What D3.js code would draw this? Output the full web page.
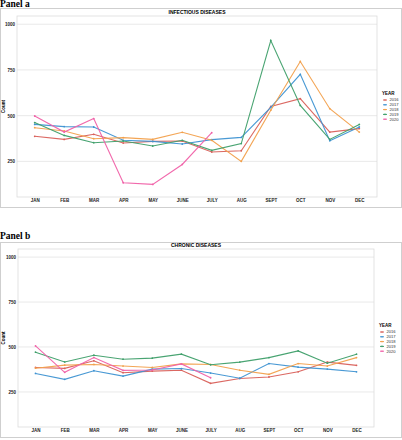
<!DOCTYPE html>
<html><head><meta charset="utf-8">
<script src="https://cdn.jsdelivr.net/npm/d3@7"></script>
<style>body{margin:0;background:#fff}svg{display:block}</style>
</head><body>
<script>
const months = ["JAN","FEB","MAR","APR","MAY","JUNE","JULY","AUG","SEPT","OCT","NOV","DEC"];
const years = ["2016","2017","2018","2019","2020"];
const yTicks = [250,500,750,1000];
const colors = ["#d9605a","#3f93d2","#f2a04c","#3f9f6a","#f061a8"];

const infectious2016 = [387,370,398,350,359,361,301,308,550,593,410,429];
const infectious2017 = [452,440,438,365,359,345,369,381,545,726,363,438];
const infectious2018 = [434,416,374,380,370,409,365,250,530,796,538,410];
const infectious2019 = [462,392,352,361,334,365,310,347,911,556,370,452];
const infectious2020 = [498,410,484,133,124,233,407];

const chronic2016 = [386,381,423,357,366,371,298,325,333,362,416,398];
const chronic2017 = [353,320,368,338,377,380,355,326,408,388,377,362];
const chronic2018 = [382,399,403,394,386,406,403,371,348,408,394,441];
const chronic2019 = [471,417,454,432,438,460,401,416,441,478,410,460];
const chronic2020 = [506,359,441,370,372,406,329];

const svg = d3.select("body").append("svg").attr("width",402).attr("height",440);

function panel(label, labelY, frame, title, series, plot, legendY){
  svg.append("rect").attr("x",frame[0]).attr("y",frame[1]).attr("width",frame[2]).attr("height",frame[3])
    .attr("fill","none").attr("stroke","#cfcfcf").attr("stroke-width",1);
  svg.append("text").attr("x",0).attr("y",labelY).text(label)
    .attr("font-family","Liberation Serif").attr("font-weight","bold").attr("font-size",9.5).attr("fill","#000");

  const [x0,y0,x1,y1] = plot;
  const x = d3.scalePoint().domain(months).range([x0,x1]).padding(0.6);
  const y = d3.scaleLinear().domain([55,1045]).range([y1,y0]);
  const g = svg.append("g");

  g.append("text").attr("x",(x0+x1)/2).attr("y",y0-2.5).attr("text-anchor","middle")
    .attr("font-family","Liberation Sans").attr("font-weight","bold").attr("font-size",5).text(title);

  g.selectAll(".gy").data(yTicks).join("line")
    .attr("x1",x0).attr("x2",x1).attr("y1",d=>y(d)).attr("y2",d=>y(d))
    .attr("stroke","#e6e6e6").attr("stroke-width",0.9);
  g.append("rect").attr("x",x0).attr("y",y0).attr("width",x1-x0).attr("height",y1-y0)
    .attr("fill","none").attr("stroke","#dcdcdc").attr("stroke-width",0.8);

  const ya = g.append("g").attr("transform",`translate(${x0},0)`)
    .call(d3.axisLeft(y).tickValues(yTicks).tickFormat(d3.format("d")).tickSize(0).tickPadding(2));
  ya.select(".domain").remove();
  ya.selectAll("text").attr("font-family","Liberation Sans").attr("font-weight","bold").attr("font-size",4.5).attr("fill","#222");
  const xa = g.append("g").attr("transform",`translate(0,${y1})`)
    .call(d3.axisBottom(x).tickSize(0).tickPadding(2));
  xa.select(".domain").remove();
  xa.selectAll("text").attr("font-family","Liberation Sans").attr("font-weight","bold").attr("font-size",4.5).attr("fill","#222");

  g.append("text").attr("transform",`translate(4.5,${(y0+y1)/2}) rotate(-90)`).attr("text-anchor","middle")
    .attr("font-family","Liberation Sans").attr("font-weight","bold").attr("font-size",4.5).text("Count");

  const line = d3.line().x((d,i)=>x(months[i])).y(d=>y(d));
  series.forEach((s,k)=>{
    g.append("path").datum(s).attr("d",line).attr("fill","none").attr("stroke",colors[k]).attr("stroke-width",1.1).attr("opacity",0.95);
    g.selectAll(null).data(s).join("circle").attr("cx",(d,i)=>x(months[i])).attr("cy",d=>y(d)).attr("r",0.9).attr("fill",colors[k]);
  });

  const lx = x1+5;
  g.append("text").attr("x",lx).attr("y",legendY).text("YEAR")
    .attr("font-family","Liberation Sans").attr("font-weight","bold").attr("font-size",4.5);
  years.forEach((yr,k)=>{
    const yy = legendY+5.5+k*4.8;
    g.append("line").attr("x1",lx+1).attr("x2",lx+5).attr("y1",yy).attr("y2",yy).attr("stroke",colors[k]).attr("stroke-width",1);
    g.append("circle").attr("cx",lx+3).attr("cy",yy).attr("r",0.8).attr("fill",colors[k]);
    g.append("text").attr("x",lx+7.5).attr("y",yy+1.4).text(yr)
      .attr("font-family","Liberation Sans").attr("font-size",4.1).attr("fill","#333");
  });
}

panel("Panel a", 6.5, [0.5,8.5,401,199], "INFECTIOUS DISEASES",
  [infectious2016,infectious2017,infectious2018,infectious2019,infectious2020], [17,16,377,197], 94.5);
panel("Panel b", 238.5, [0.5,242.5,401,195], "CHRONIC DISEASES",
  [chronic2016,chronic2017,chronic2018,chronic2019,chronic2020], [18,249,374,427], 326.5);
</script>
</body></html>
